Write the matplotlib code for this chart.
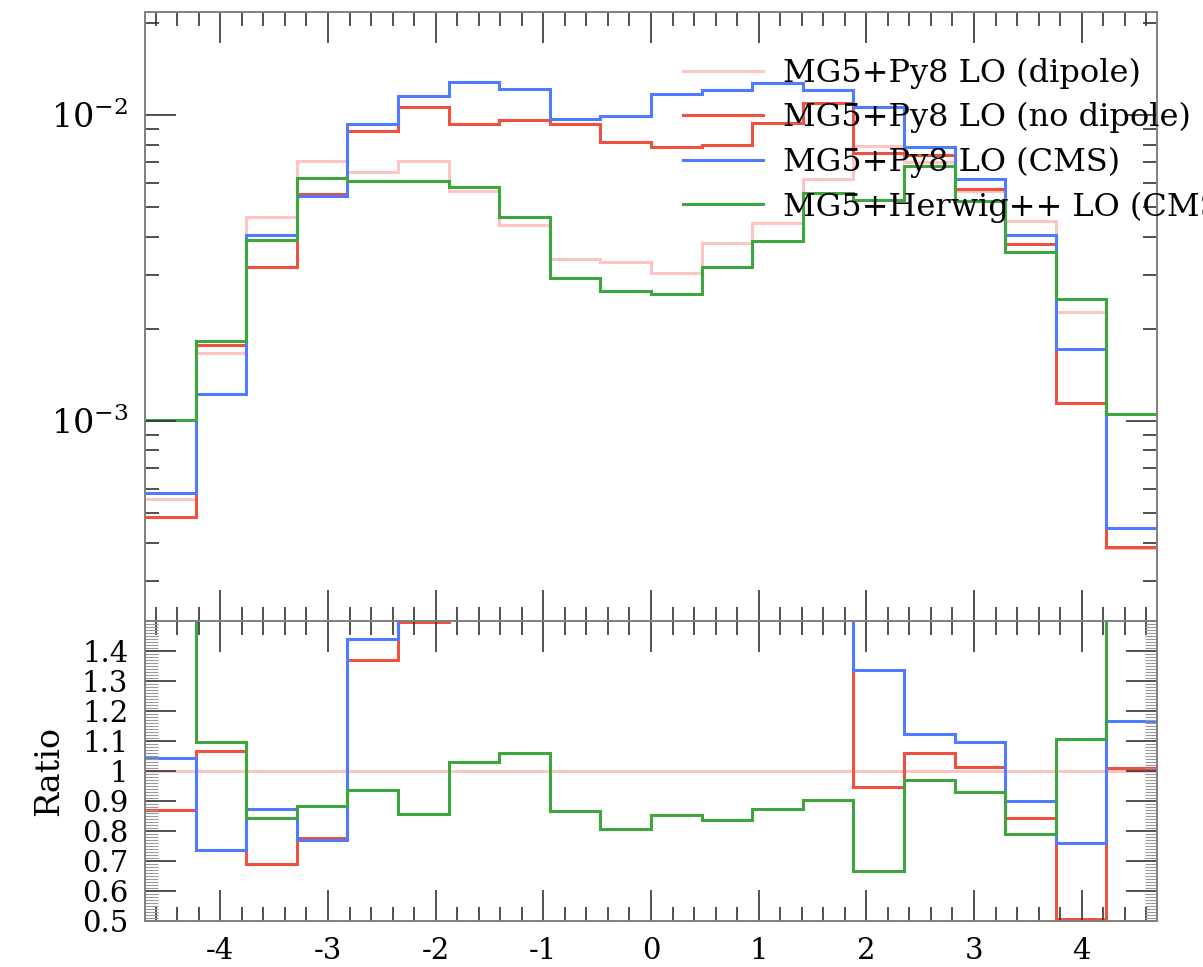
import matplotlib
matplotlib.use("Agg")
import matplotlib.pyplot as plt
import numpy as np
from matplotlib.ticker import MultipleLocator, LogLocator, FuncFormatter, NullFormatter

plt.rcParams['font.family'] = ['DejaVu Serif']
plt.rcParams['mathtext.fontset'] = 'dejavuserif'
plt.rcParams['axes.unicode_minus'] = False

# bin edges (20 bins)
bin_edges = [-4.7, -4.23, -3.76, -3.29, -2.82, -2.35, -1.88, -1.41, -0.94, -0.47, 0.0,
             0.47, 0.94, 1.41, 1.88, 2.35, 2.82, 3.29, 3.76, 4.23, 4.7]

# histogram contents
dipole = [5.56e-4, 1.66e-3, 4.63e-3, 7.08e-3, 6.49e-3, 7.08e-3, 5.66e-3, 4.37e-3, 3.39e-3, 3.30e-3,
          3.05e-3, 3.82e-3, 4.43e-3, 6.15e-3, 7.92e-3, 7.00e-3, 5.65e-3, 4.50e-3, 2.27e-3, 3.83e-4]
no_dipole = [4.84e-4, 1.77e-3, 3.19e-3, 5.50e-3, 8.89e-3, 1.059e-2, 9.31e-3, 9.62e-3, 9.31e-3, 8.15e-3,
             7.88e-3, 7.97e-3, 9.39e-3, 1.093e-2, 7.48e-3, 7.41e-3, 5.72e-3, 3.79e-3, 1.145e-3, 3.86e-4]
cms = [5.79e-4, 1.22e-3, 4.04e-3, 5.45e-3, 9.35e-3, 1.156e-2, 1.277e-2, 1.217e-2, 9.7e-3, 9.9e-3,
       1.167e-2, 1.203e-2, 1.268e-2, 1.21e-2, 1.059e-2, 7.85e-3, 6.19e-3, 4.05e-3, 1.72e-3, 4.47e-4]
herwig = [1.005e-3, 1.82e-3, 3.90e-3, 6.24e-3, 6.07e-3, 6.06e-3, 5.83e-3, 4.63e-3, 2.94e-3, 2.66e-3,
          2.60e-3, 3.19e-3, 3.86e-3, 5.55e-3, 5.27e-3, 6.79e-3, 5.24e-3, 3.55e-3, 2.51e-3, 1.05e-3]

labels = ["MG5+Py8 LO (dipole)", "MG5+Py8 LO (no dipole)", "MG5+Py8 LO (CMS)", "MG5+Herwig++ LO (CMS)"]
colors = ["#ffc4c4", "#f0503e", "#4f7bff", "#3ea63e"]
series = [dipole, no_dipole, cms, herwig]

fig = plt.figure(figsize=(12.03, 9.67), dpi=100)
ax = fig.add_axes([0.1205, 0.3581, 0.8413, 0.6295])
rax = fig.add_axes([0.1205, 0.0479, 0.8413, 0.3102])

ref = np.array(dipole)
for vals, col, lab in zip(series, colors, labels):
    ax.stairs(vals, bin_edges, baseline=None, color=col, lw=2.2, label=lab)
    rax.stairs(np.array(vals) / ref, bin_edges, baseline=None, color=col, lw=2.2)

# main panel
ax.set_yscale('log')
ax.set_xlim(-4.7, 4.7)
ax.set_ylim(2.22e-4, 2.17e-2)
ax.yaxis.set_major_locator(LogLocator(base=10))
ax.yaxis.set_minor_locator(LogLocator(base=10, subs=np.arange(2, 10)))
ax.yaxis.set_minor_formatter(NullFormatter())
ax.yaxis.set_major_formatter(FuncFormatter(lambda v, p: r'$10^{%d}$' % round(np.log10(v))))
ax.xaxis.set_major_locator(MultipleLocator(1))
ax.xaxis.set_minor_locator(MultipleLocator(0.2))
ax.tick_params(labelbottom=False)

# ratio panel
rax.set_xlim(-4.7, 4.7)
rax.set_ylim(0.5, 1.5)
rax.xaxis.set_major_locator(MultipleLocator(1))
rax.xaxis.set_minor_locator(MultipleLocator(0.2))
rax.yaxis.set_major_locator(MultipleLocator(0.1))
rax.yaxis.set_minor_locator(MultipleLocator(0.01))
rax.yaxis.set_major_formatter(FuncFormatter(lambda v, p: f"{round(v, 2):g}" if v < 1.45 else ""))
rax.set_ylabel("Ratio", fontsize=24, labelpad=12)

for a in (ax, rax):
    a.tick_params(which='both', direction='in', top=True, right=True, color='#333333', width=1.2)
    a.tick_params(which='major', length=22, labelsize=21, pad=12)
    a.tick_params(which='minor', length=10)
    for s in a.spines.values():
        s.set_color('#808080')
        s.set_linewidth(1.4)
rax.tick_params(axis='y', which='minor', length=9, width=0.8, color='#999999')
ax.tick_params(axis='y', which='major', labelsize=24)

ax.legend(loc='upper left', bbox_to_anchor=(682.7 / 1203, 0.9405), bbox_transform=fig.transFigure,
          frameon=False, fontsize=23, borderpad=0, borderaxespad=0, handlelength=2.5,
          handletextpad=0.65, labelspacing=0.42)

fig.savefig("out.png", dpi=100)
